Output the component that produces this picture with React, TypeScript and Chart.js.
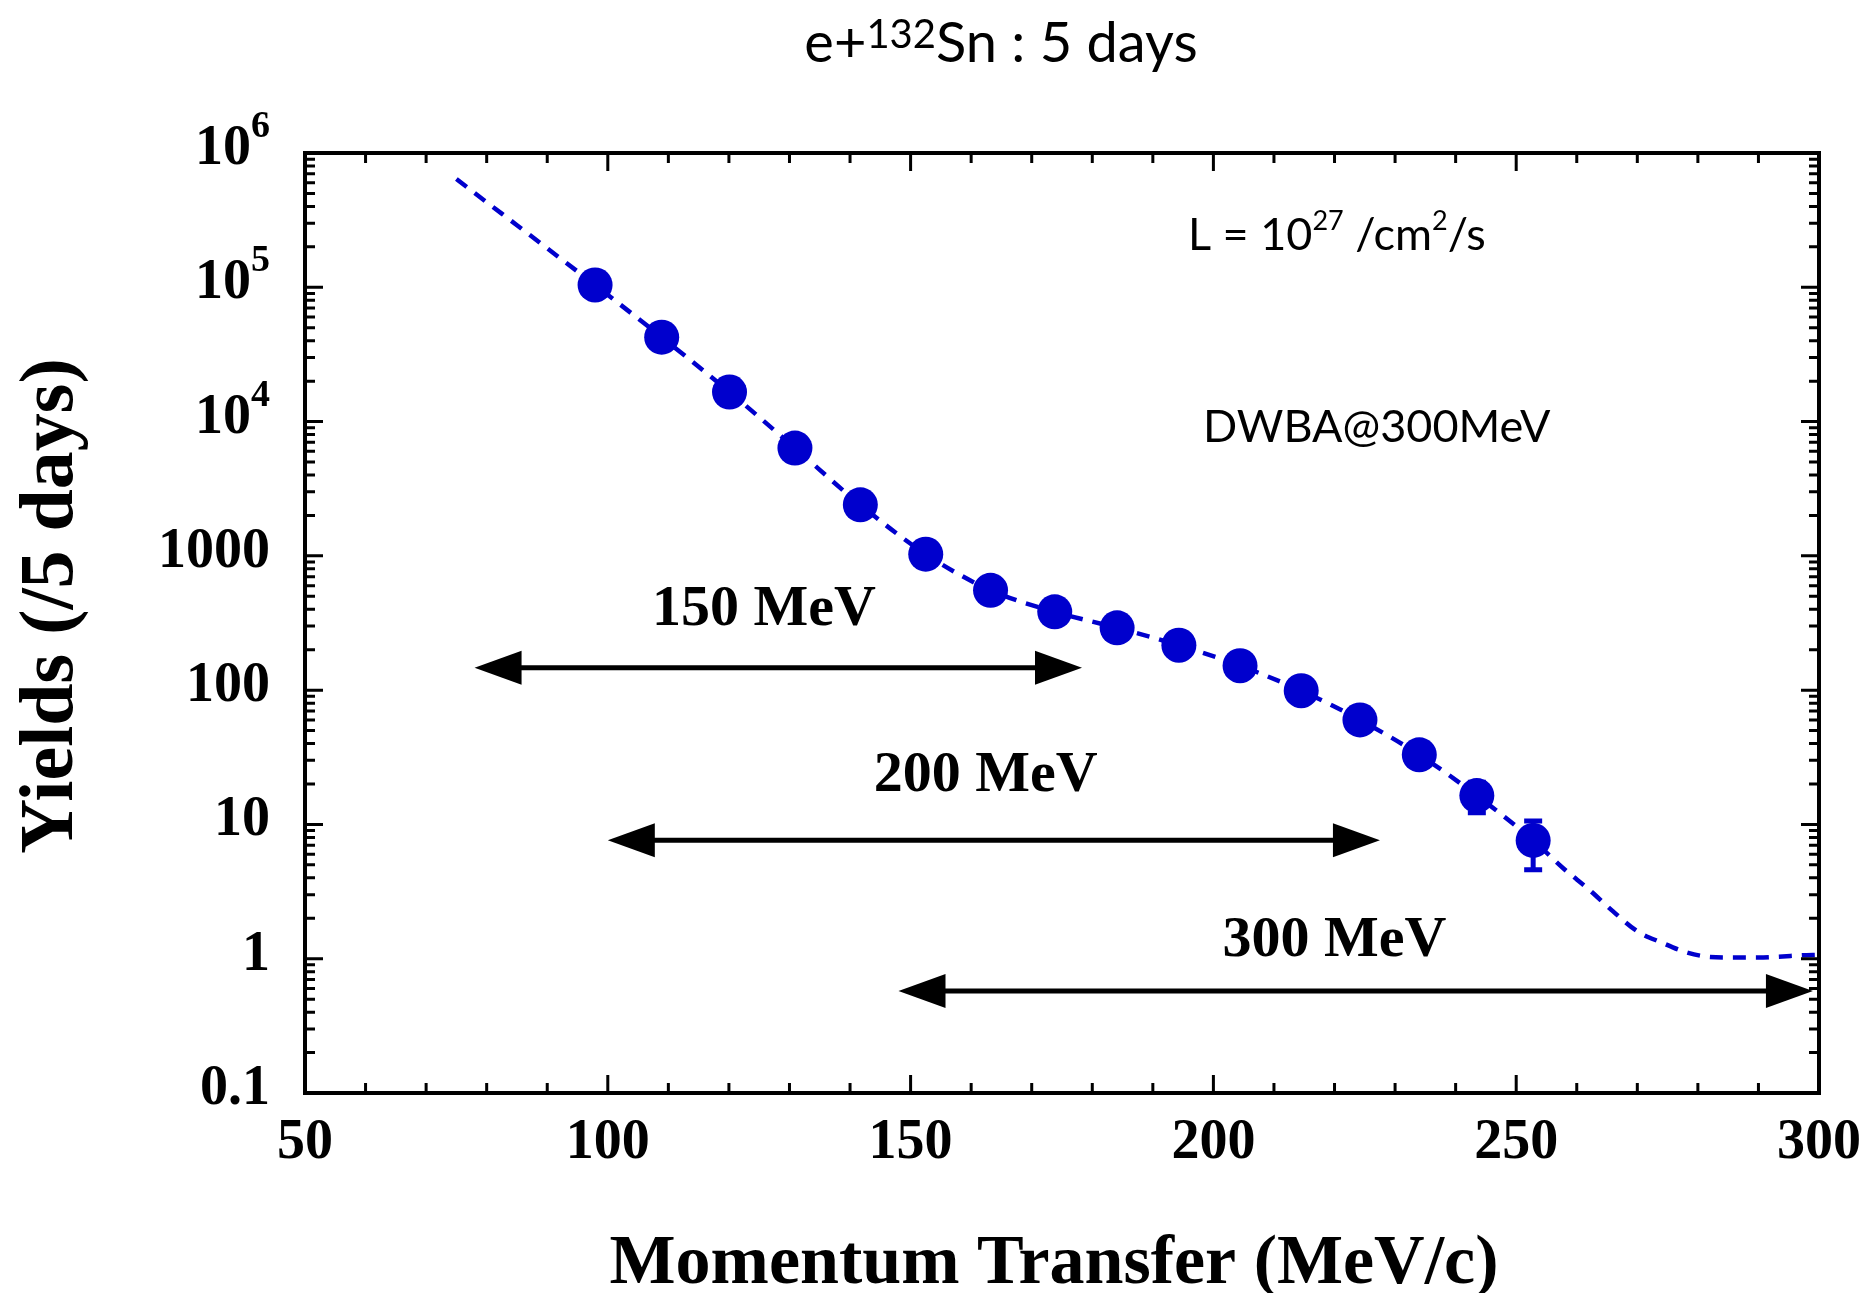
import React, { useEffect, useRef } from "react";
import { Chart, registerables } from "chart.js";

Chart.register(...registerables);

// ---- Data ----
// Measured yields (points) : momentum transfer (MeV/c) and yields (/5 days)
const dataQ = [97.9, 108.9, 120.1, 130.9, 141.7, 152.5, 163.2, 173.8, 184.1, 194.3, 204.4, 214.5, 224.2, 234.0, 243.5, 252.8];
const dataYield = [104000, 42500, 16600, 6350, 2400, 1030, 554, 383, 291, 216, 152, 99, 60, 33, 16.4, 7.6];
const dataErr = [320, 205, 130, 80, 49, 32, 23, 19.5, 17, 14.7, 12.3, 10, 7.7, 5.7, 4.2, 3.0];

// DWBA@300MeV curve (dashed)
const curveQ = [75, 80, 85, 90, 97.9, 108.9, 120.1, 130.9, 141.7, 152.5, 163.2, 173.8, 184.1, 194.3, 204.4, 214.5, 224.2, 234.0, 243.5, 252.8, 258, 262, 266, 270, 274, 278, 282, 286, 290, 294, 297, 300];
const curveYield = [640000, 430000, 290000, 195000, 104000, 42500, 16600, 6350, 2400, 1030, 554, 383, 291, 216, 152, 99, 60, 33, 16.4, 7.6, 4.62, 3.28, 2.25, 1.6, 1.32, 1.12, 1.03, 1.02, 1.02, 1.04, 1.06, 1.07];

// Beam-energy coverage arrows
const arrowLabels = ["150 MeV", "200 MeV", "300 MeV"];
const arrowFrom = [78, 100, 148];
const arrowTo = [178.3, 227.5, 299];
const arrowAt = [146.5, 7.64, 0.575];

// Axis ticks
const xTickValues = [50, 100, 150, 200, 250, 300];
const xTickLabels = ["50", "100", "150", "200", "250", "300"];
const yTickValues = [0.1, 1, 10, 100, 1000, 10000, 100000, 1000000];
const yTickBase = ["0.1", "1", "10", "100", "1000", "10", "10", "10"];
const yTickExp = ["", "", "", "", "", "4", "5", "6"];

const titleParts = [
  { t: "e+" },
  { t: "132", sup: true },
  { t: "Sn : 5 days" },
];
const lumiParts = [
  { t: "L = 10" },
  { t: "27", sup: true },
  { t: " /cm" },
  { t: "2", sup: true },
  { t: "/s" },
];
const modelText = "DWBA@300MeV";
const xTitle = "Momentum Transfer (MeV/c)";
const yTitle = "Yields (/5 days)";

// ---- Styles ----
const SERIF = '"Liberation Serif", "Times New Roman", serif';
const SANS = 'Lato, "Open Sans", sans-serif';
const BLUE = "#0000CD";

type Part = { t: string; sup?: boolean };

function drawRich(
  ctx: CanvasRenderingContext2D,
  parts: Part[],
  x: number,
  y: number,
  align: "left" | "center" | "right",
  font: string,
  supFont: string,
  rise: number
) {
  let total = 0;
  const widths = parts.map((p) => {
    ctx.font = p.sup ? supFont : font;
    const w = ctx.measureText(p.t).width;
    total += w;
    return w;
  });
  let cx = align === "center" ? x - total / 2 : align === "right" ? x - total : x;
  ctx.textAlign = "left";
  ctx.textBaseline = "alphabetic";
  parts.forEach((p, i) => {
    ctx.font = p.sup ? supFont : font;
    ctx.fillText(p.t, cx, p.sup ? y - rise : y);
    cx += widths[i];
  });
}

const decorPlugin = {
  id: "decor",
  beforeDatasetsDraw(chart: any) {
    const ctx: CanvasRenderingContext2D = chart.ctx;
    const xs = chart.scales.x;
    const ys = chart.scales.y;
    ctx.save();
    ctx.strokeStyle = BLUE;
    ctx.lineWidth = 5;
    dataQ.forEach((q, i) => {
      const px = xs.getPixelForValue(q);
      const lo = Math.max(dataYield[i] - dataErr[i], 0.1);
      const hi = dataYield[i] + dataErr[i];
      const pyl = ys.getPixelForValue(lo);
      const pyh = ys.getPixelForValue(hi);
      ctx.beginPath();
      ctx.moveTo(px, pyl);
      ctx.lineTo(px, pyh);
      ctx.moveTo(px - 9, pyl);
      ctx.lineTo(px + 9, pyl);
      ctx.moveTo(px - 9, pyh);
      ctx.lineTo(px + 9, pyh);
      ctx.stroke();
    });
    ctx.restore();
  },
  afterDraw(chart: any) {
    const ctx: CanvasRenderingContext2D = chart.ctx;
    const xs = chart.scales.x;
    const ys = chart.scales.y;
    const a = chart.chartArea;
    ctx.save();
    ctx.fillStyle = "#000";
    ctx.strokeStyle = "#000";

    // Frame
    ctx.lineWidth = 4;
    ctx.strokeRect(a.left, a.top, a.right - a.left, a.bottom - a.top);

    // X ticks (bottom and top, inward)
    ctx.lineWidth = 3;
    ctx.beginPath();
    for (let v = 50; v <= 300; v += 10) {
      const px = xs.getPixelForValue(v);
      const len = v % 50 === 0 ? 18 : 10;
      ctx.moveTo(px, a.bottom);
      ctx.lineTo(px, a.bottom - len);
      ctx.moveTo(px, a.top);
      ctx.lineTo(px, a.top + len);
    }
    // Y ticks (left and right, inward)
    for (let e = -1; e <= 6; e++) {
      for (let m = 1; m <= 9; m++) {
        const v = m * Math.pow(10, e);
        if (v > 1e6 * 1.0001) continue;
        const py = ys.getPixelForValue(v);
        const len = m === 1 ? 18 : 10;
        ctx.moveTo(a.left, py);
        ctx.lineTo(a.left + len, py);
        ctx.moveTo(a.right, py);
        ctx.lineTo(a.right - len, py);
      }
    }
    ctx.stroke();

    // X tick labels
    ctx.font = `bold 56px ${SERIF}`;
    ctx.textAlign = "center";
    ctx.textBaseline = "alphabetic";
    xTickValues.forEach((v, i) => {
      ctx.fillText(xTickLabels[i], xs.getPixelForValue(v), a.bottom + 65);
    });

    // Y tick labels
    yTickValues.forEach((v, i) => {
      const py = ys.getPixelForValue(v) + 11;
      const parts: Part[] = [{ t: yTickBase[i] }];
      if (yTickExp[i]) parts.push({ t: yTickExp[i], sup: true });
      drawRich(ctx, parts, a.left - 35, py, "right", `bold 56px ${SERIF}`, `bold 38px ${SERIF}`, 27);
    });

    // Axis titles
    ctx.font = `bold 70px ${SERIF}`;
    ctx.textAlign = "center";
    ctx.fillText(xTitle, (a.left + a.right) / 2 - 8, a.bottom + 190);
    ctx.save();
    ctx.translate(72, 606);
    ctx.rotate(-Math.PI / 2);
    ctx.font = `bold 76px ${SERIF}`;
    ctx.fillText(yTitle, 0, 0);
    ctx.restore();

    // Chart title
    drawRich(ctx, titleParts, 1001, 62, "center", `56px ${SANS}`, `40px ${SANS}`, 14);

    // Text annotations
    drawRich(ctx, lumiParts, xs.getPixelForValue(195.8), ys.getPixelForValue(190000), "left", `45px ${SANS}`, `27px ${SANS}`, 20);
    ctx.font = `45px ${SANS}`;
    ctx.textAlign = "left";
    ctx.fillText(modelText, xs.getPixelForValue(198.3), ys.getPixelForValue(7080));

    // Energy-range arrows
    const labelX = [125.8, 162.4, 220.0];
    const labelY = [307.6, 17.6, 1.047];
    arrowLabels.forEach((lab, i) => {
      const x1 = xs.getPixelForValue(arrowFrom[i]);
      const x2 = xs.getPixelForValue(arrowTo[i]);
      const py = ys.getPixelForValue(arrowAt[i]);
      const head = 47;
      const hw = 17;
      ctx.lineWidth = 5;
      ctx.beginPath();
      ctx.moveTo(x1 + head - 2, py);
      ctx.lineTo(x2 - head + 2, py);
      ctx.stroke();
      ctx.beginPath();
      ctx.moveTo(x1, py);
      ctx.lineTo(x1 + head, py - hw);
      ctx.lineTo(x1 + head, py + hw);
      ctx.closePath();
      ctx.fill();
      ctx.beginPath();
      ctx.moveTo(x2, py);
      ctx.lineTo(x2 - head, py - hw);
      ctx.lineTo(x2 - head, py + hw);
      ctx.closePath();
      ctx.fill();
      ctx.font = `bold 58px ${SERIF}`;
      ctx.textAlign = "center";
      ctx.fillText(lab, xs.getPixelForValue(labelX[i]), ys.getPixelForValue(labelY[i]));
    });

    ctx.restore();
  },
};

export default function App() {
  const ref = useRef<HTMLCanvasElement>(null);
  useEffect(() => {
    if (!ref.current) return;
    const chart = new Chart(ref.current, {
      type: "scatter",
      data: {
        datasets: [
          {
            type: "line",
            label: "DWBA@300MeV",
            data: curveQ.map((q, i) => ({ x: q, y: curveYield[i] })),
            borderColor: BLUE,
            borderWidth: 4.5,
            borderDash: [13, 10],
            pointRadius: 0,
            fill: false,
            cubicInterpolationMode: "monotone",
            order: 2,
          } as any,
          {
            type: "scatter",
            label: "Yields",
            data: dataQ.map((q, i) => ({ x: q, y: dataYield[i] })),
            pointRadius: 17.5,
            pointBackgroundColor: BLUE,
            pointBorderWidth: 0,
            borderColor: BLUE,
            order: 1,
          } as any,
        ],
      },
      options: {
        responsive: false,
        animation: false,
        events: [],
        layout: { padding: { left: 305, top: 153, right: 51, bottom: 200 } },
        scales: {
          x: { type: "linear", min: 50, max: 300, display: false },
          y: { type: "logarithmic", min: 0.1, max: 1000000, display: false },
        },
        plugins: {
          legend: { display: false },
          tooltip: { enabled: false },
          title: { display: false },
        },
      },
      plugins: [decorPlugin],
    });
    return () => chart.destroy();
  }, []);
  return (
    <div style={{ position: "absolute", left: 0, top: 0, background: "#fff" }}>
      <canvas ref={ref} width={1870} height={1293} />
    </div>
  );
}
